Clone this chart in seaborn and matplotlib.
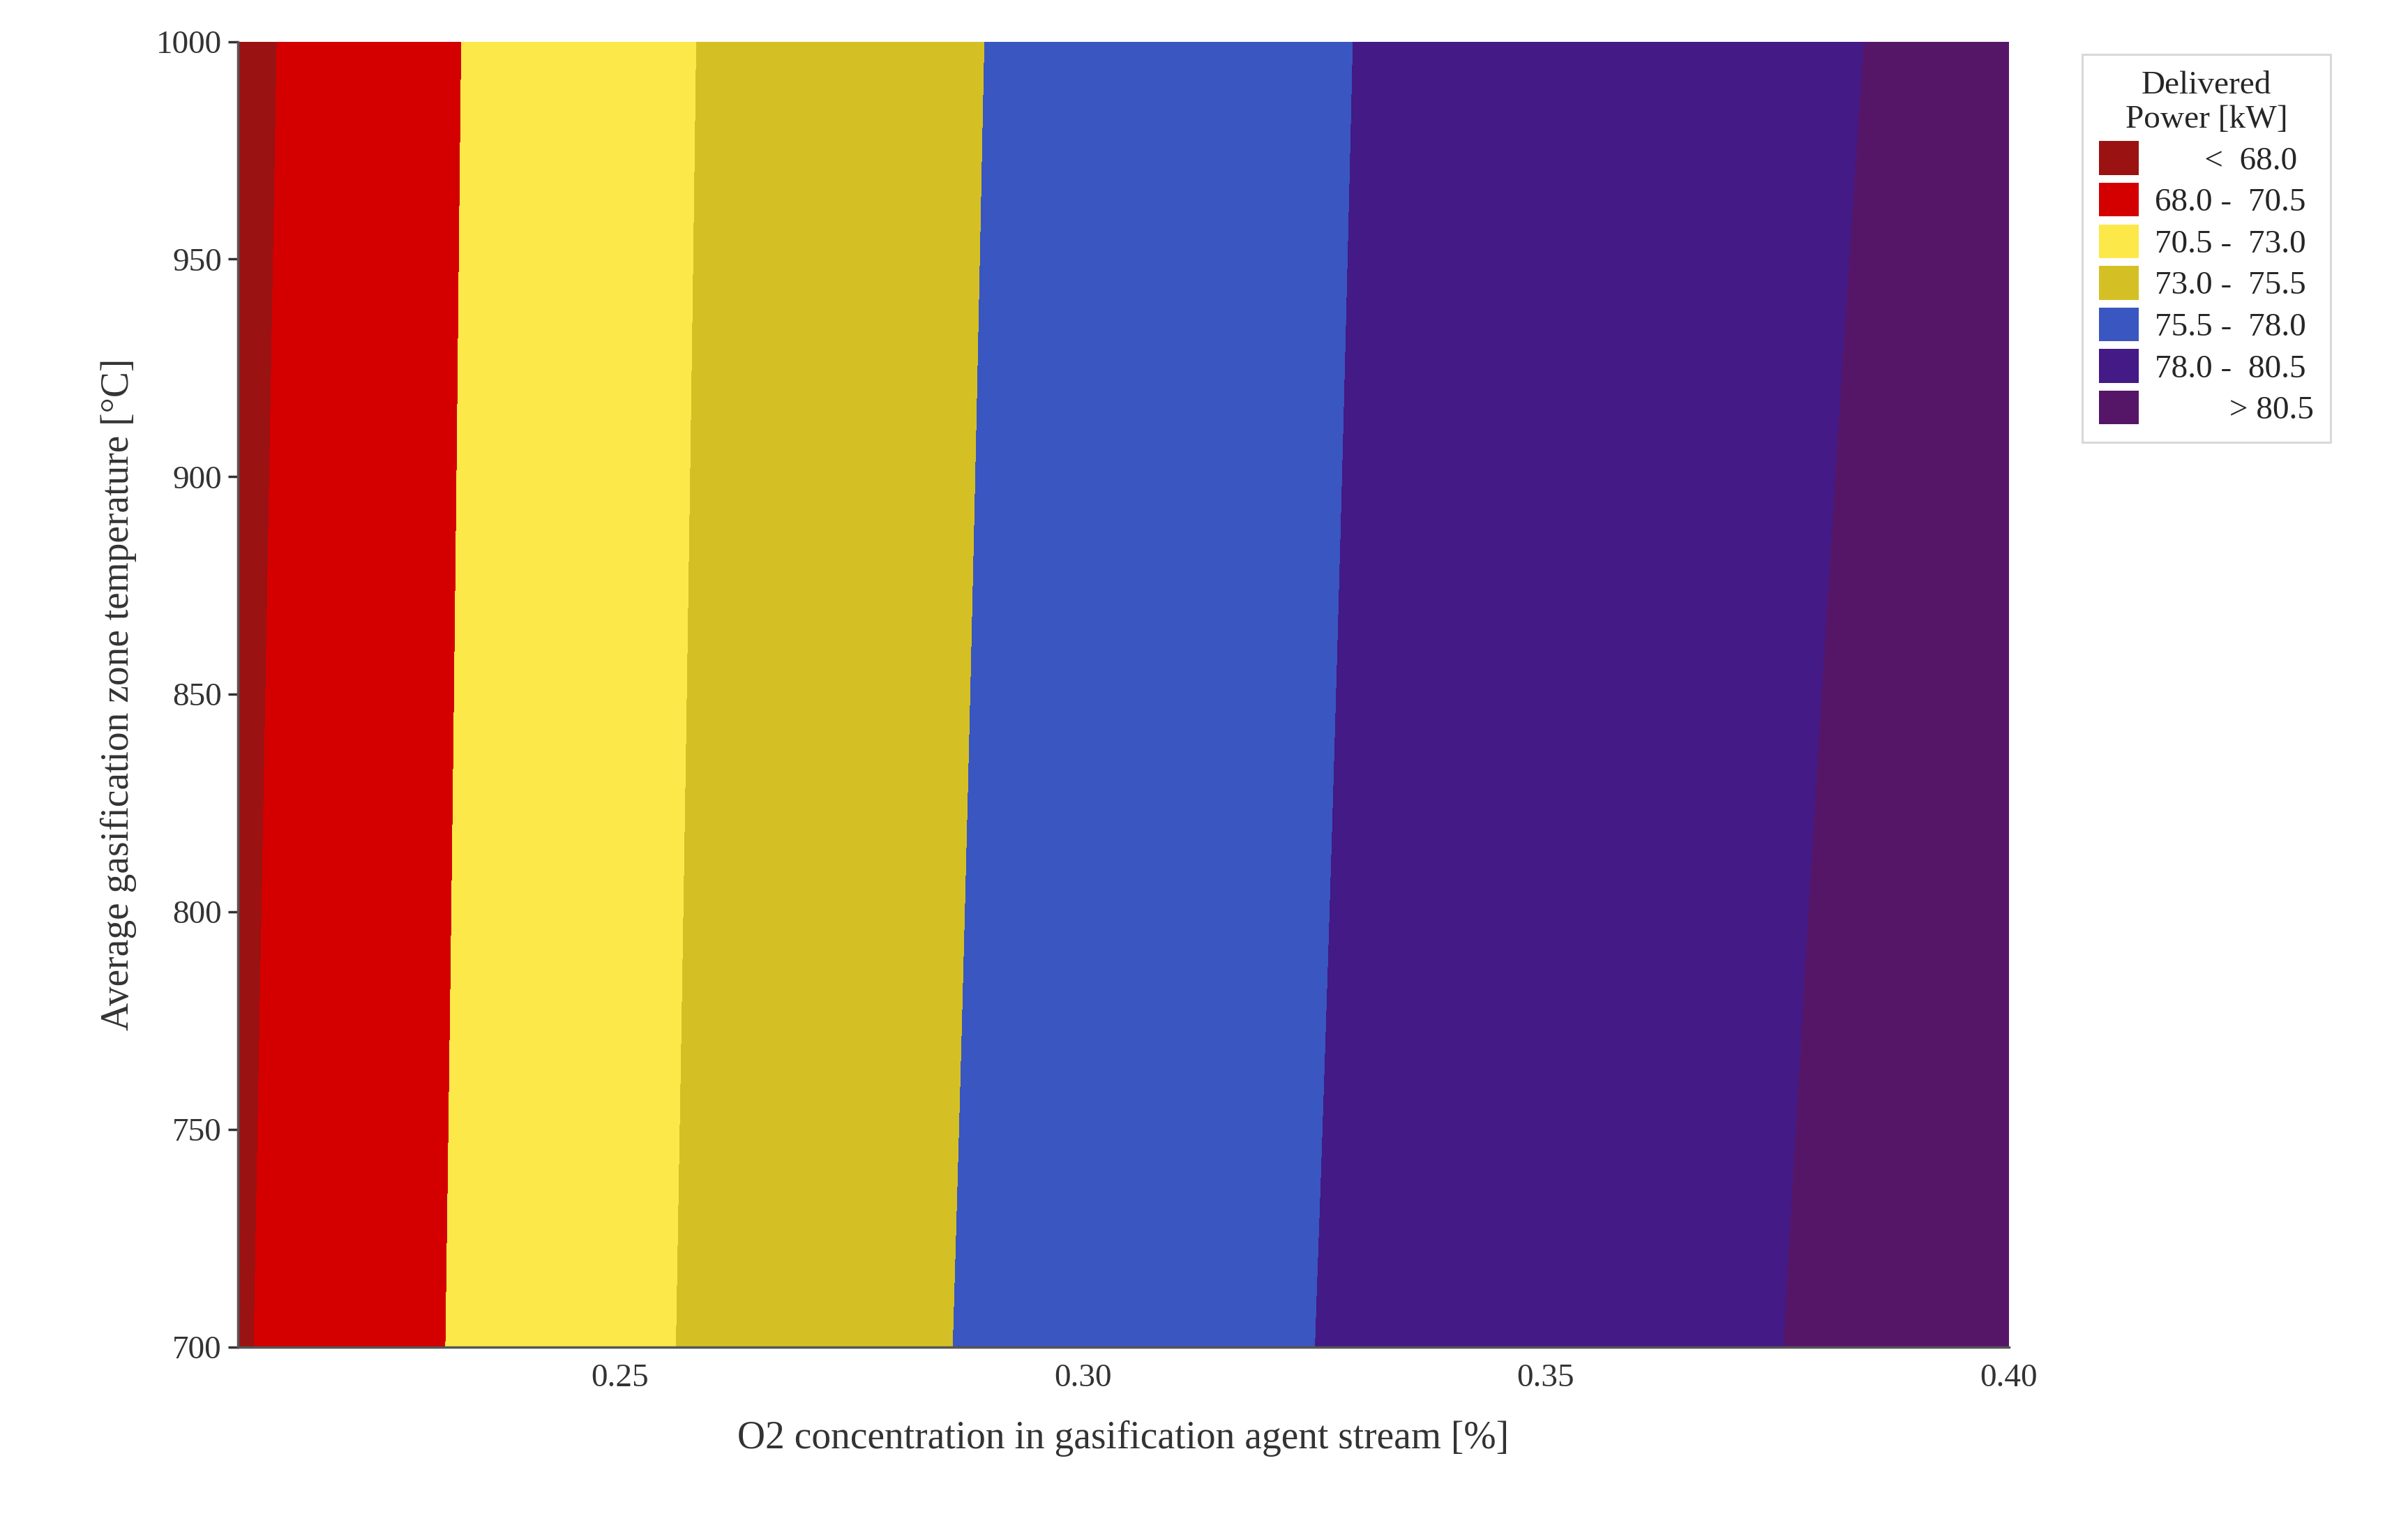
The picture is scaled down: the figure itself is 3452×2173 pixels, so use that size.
import numpy as np
import matplotlib
matplotlib.use("Agg")
import matplotlib.pyplot as plt
import seaborn as sns
from matplotlib.patches import Patch

sns.set_theme(style="white")
plt.rcParams['font.family'] = ['Liberation Serif', 'DejaVu Serif']

# Data
temps = [700, 1000]
levels = [68.0, 70.5, 73.0, 75.5, 78.0, 80.5]
bound_700 = [0.2105, 0.2312, 0.2561, 0.2860, 0.3251, 0.3757]
bound_1000 = [0.2130, 0.2329, 0.2583, 0.2894, 0.3292, 0.3844]
colors = ['#9a1212', '#d40000', '#fde84a', '#d4c024', '#3a56c0', '#431a86', '#561668']
labels = ['      <  68.0', '68.0 -  70.5', '70.5 -  73.0', '73.0 -  75.5',
          '75.5 -  78.0', '78.0 -  80.5', '         > 80.5']

x = np.linspace(0.2088, 0.40, 600)
def row(b):
    bx = [b[0] - 0.02] + list(b) + [b[-1] + 0.05]
    bl = [levels[0] - 2.5] + levels + [levels[-1] + 2.5]
    return np.interp(x, bx, bl, left=None, right=None)
Z = np.vstack([row(bound_700), row(bound_1000)])

fig = plt.figure(figsize=(17.26, 10.865), dpi=200)
ax = fig.add_axes([0.0989, 0.1114, 0.7353, 0.8612])
ax.contourf(x, temps, Z, levels=[-1e9] + levels + [1e9], colors=colors)
ax.set_xlim(0.2088, 0.40)
ax.set_ylim(700, 1000)
ax.set_xticks([0.25, 0.30, 0.35, 0.40])
ax.set_xticklabels(['0.25', '0.30', '0.35', '0.40'])
ax.set_yticks(range(700, 1001, 50))
ax.tick_params(labelsize=17, colors='#333333', length=5, left=True, bottom=False)
for s in ['top', 'right']:
    ax.spines[s].set_visible(False)
for s in ['left', 'bottom']:
    ax.spines[s].set_color('#555555')
ax.set_xlabel('O2 concentration in gasification agent stream [%]', fontsize=20, color='#333333', labelpad=14)
ax.set_ylabel('Average gasification zone temperature [°C]', fontsize=20, color='#333333', labelpad=10)

handles = [Patch(facecolor=c, edgecolor='none') for c in colors]
leg = fig.legend(handles, labels, title='Delivered\nPower [kW]', loc='upper left',
                 bbox_to_anchor=(0.858, 0.975), fontsize=17, title_fontsize=17,
                 frameon=True, fancybox=False, edgecolor='#cccccc',
                 handlelength=1.2, handleheight=1.2, handletextpad=0.5,
                 labelspacing=0.2, borderpad=0.5)
leg.get_title().set_multialignment('center')
fig.savefig('out.png', dpi=200)
